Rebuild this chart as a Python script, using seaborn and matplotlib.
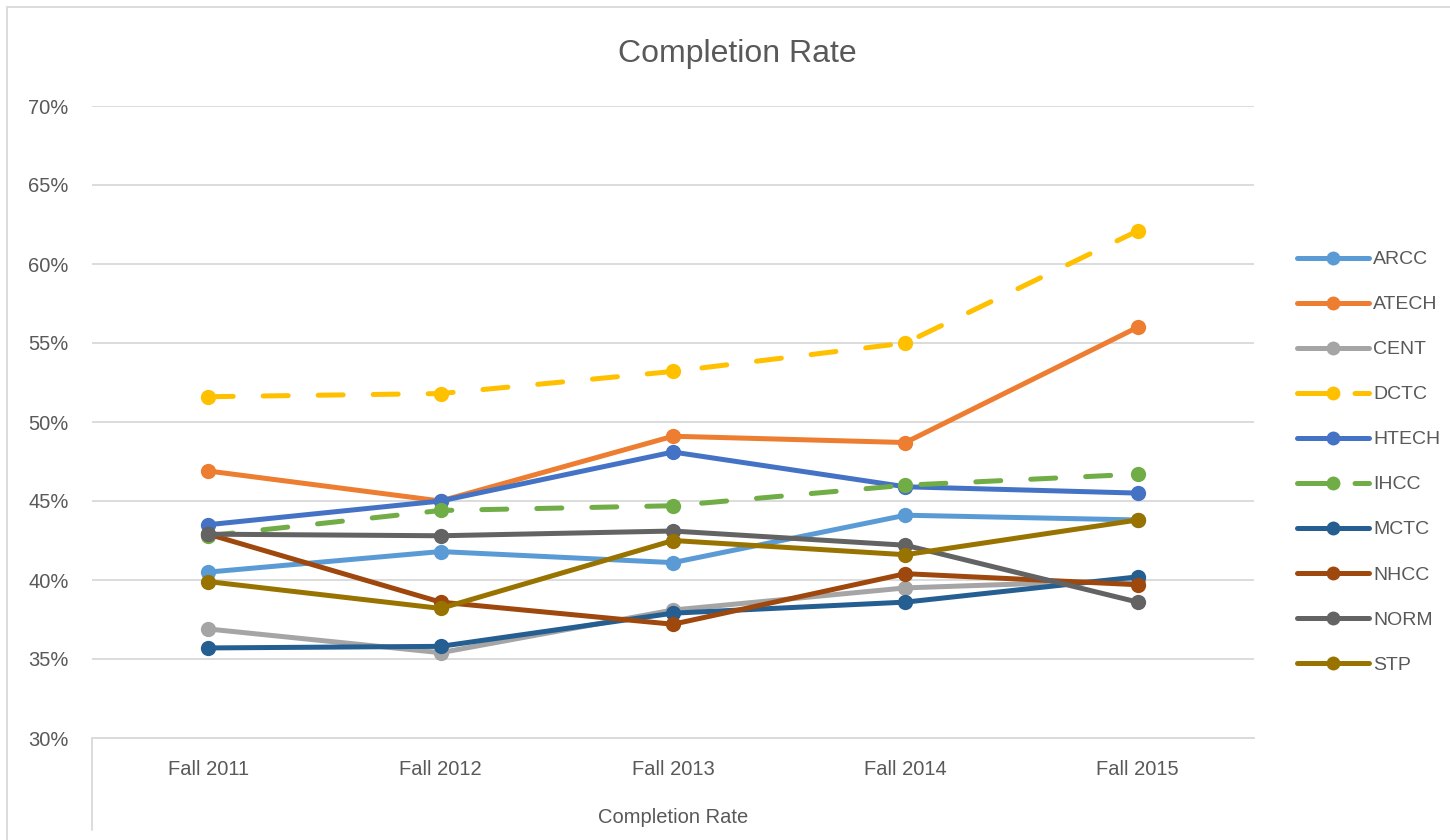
import pandas as pd
import matplotlib
matplotlib.use("Agg")
import matplotlib.pyplot as plt
import seaborn as sns
from matplotlib.lines import Line2D
from matplotlib.patches import Rectangle
from matplotlib.ticker import PercentFormatter

# --- data ---
terms = ["Fall 2011", "Fall 2012", "Fall 2013", "Fall 2014", "Fall 2015"]
colleges = ["ARCC", "ATECH", "CENT", "DCTC", "HTECH",
            "IHCC", "MCTC", "NHCC", "NORM", "STP"]

arcc = [40.5, 41.8, 41.1, 44.1, 43.8]
atech = [46.9, 45.0, 49.1, 48.7, 56.0]
cent = [36.9, 35.4, 38.1, 39.5, 40.0]
dctc = [51.6, 51.8, 53.2, 55.0, 62.1]
htech = [43.5, 45.0, 48.1, 45.9, 45.5]
ihcc = [42.8, 44.4, 44.7, 46.0, 46.7]
mctc = [35.7, 35.8, 37.9, 38.6, 40.2]
nhcc = [42.9, 38.6, 37.2, 40.4, 39.7]
norm = [42.9, 42.8, 43.1, 42.2, 38.6]
stp = [39.9, 38.2, 42.5, 41.6, 43.8]

colors = ["#5B9BD5", "#ED7D31", "#A5A5A5", "#FFC000", "#4472C4",
          "#70AD47", "#255E91", "#9E480E", "#636363", "#997300"]
dashed = ["DCTC", "IHCC"]

series = dict(zip(colleges, [arcc, atech, cent, dctc, htech,
                             ihcc, mctc, nhcc, norm, stp]))
rows = []
for name, vals in series.items():
    for t, v in zip(terms, vals):
        rows.append({"Term": t, "College": name, "Rate": v})
df = pd.DataFrame(rows)
df["Term"] = pd.Categorical(df["Term"], categories=terms, ordered=True)
df["x"] = df["Term"].cat.codes

sns.set_style("white")
plt.rcParams["font.family"] = ["Liberation Sans", "DejaVu Sans"]
txt = "#595959"
grid_c = "#D9D9D9"
lw = 3.6

fig = plt.figure(figsize=(14.5, 8.4), dpi=100)
ax = fig.add_axes([92 / 1450, 1 - 738 / 840, (1254 - 92) / 1450, (738 - 106) / 840])

palette = dict(zip(colleges, colors))
dash_map = {c: ((5, 6) if c in dashed else "") for c in colleges}
sns.lineplot(data=df, x="x", y="Rate", hue="College", style="College",
             palette=palette, dashes=dash_map, markers=["o"] * len(colleges),
             markersize=11, linewidth=lw, markeredgewidth=0,
             legend=False, ax=ax, sort=False)
for ln in ax.get_lines():
    ln.set_dash_capstyle("round")
    ln.set_solid_capstyle("round")

ax.set_xlim(-0.5, len(terms) - 0.5)
ax.set_ylim(30, 70)
ax.set_yticks(range(30, 71, 5))
ax.yaxis.set_major_formatter(PercentFormatter(decimals=0))
ax.set_xticks(range(len(terms)))
ax.set_xticklabels(terms)
ax.tick_params(axis="both", length=0, labelsize=14.5, colors=txt)
ax.tick_params(axis="y", pad=17)
ax.tick_params(axis="x", pad=16)
ax.grid(axis="y", color=grid_c, linewidth=1.3)
ax.set_axisbelow(True)
for s in ["top", "right", "left"]:
    ax.spines[s].set_visible(False)
ax.spines["bottom"].set_color(grid_c)
ax.spines["bottom"].set_linewidth(1.3)
ax.set_xlabel("Completion Rate", fontsize=14.5, color=txt, labelpad=21)
ax.set_ylabel("")
# category axis box line on the left
ax.plot([0, 0], [0, -0.146], transform=ax.transAxes, color=grid_c,
        linewidth=1.3, clip_on=False)

fig.text(737 / 1450, 1 - 54 / 840, "Completion Rate", ha="center", va="center",
         fontsize=23, color=txt)

handles = [Line2D([0], [0], color=palette[c], linewidth=lw, marker="o",
                  markersize=10, markeredgewidth=0,
                  linestyle=(0, (8, 3.5)) if c in dashed else "-",
                  dash_capstyle="round", solid_capstyle="round")
           for c in colleges]
leg = fig.legend(handles, colleges, loc="upper left",
                 bbox_to_anchor=(1287 / 1450, 1 - 241 / 840), frameon=False,
                 fontsize=14, handlelength=3.7, labelspacing=1.41,
                 handletextpad=0.22, borderpad=0)
for t in leg.get_texts():
    t.set_color(txt)

fig.patches.append(Rectangle((7 / 1450, -0.01), 1.0, 1 - 7 / 840 + 0.01,
                             transform=fig.transFigure, fill=False,
                             edgecolor=grid_c, linewidth=1.3))

fig.savefig("out.png", dpi=100)
